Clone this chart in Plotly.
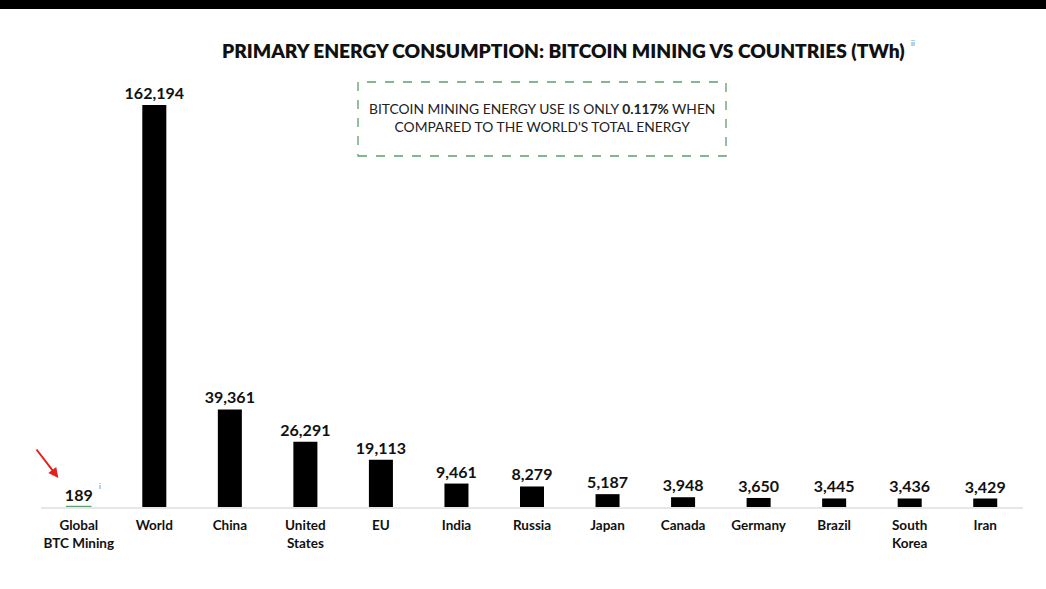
import plotly.graph_objects as go

categories = ["Global<br>BTC Mining", "World", "China", "United<br>States", "EU", "India",
              "Russia", "Japan", "Canada", "Germany", "Brazil", "South<br>Korea", "Iran"]
values = [189, 162194, 39361, 26291, 19113, 9461, 8279, 5187, 3948, 3650, 3445, 3436, 3429]
value_labels = ["189", "162,194", "39,361", "26,291", "19,113", "9,461", "8,279", "5,187",
                "3,948", "3,650", "3,445", "3,436", "3,429"]

GREEN = "#5b9f70"
bar_colors = [GREEN] + ["#000000"] * (len(values) - 1)
line_widths = [1.5] + [0] * (len(values) - 1)

FONT = "Lato"
L, T, PW, PH = 41, 60, 982, 447

def px(x):
    return (x - L) / PW

def py(y):
    return (T + PH - y) / PH

fig = go.Figure()
fig.add_trace(go.Bar(
    x=list(range(len(categories))),
    y=values,
    marker=dict(color=bar_colors, line=dict(color=bar_colors, width=line_widths)),
    width=0.318,
    text=value_labels,
    textposition="outside",
    constraintext="none",
    textfont=dict(family=FONT, size=16, color="#111111", weight="bold"),
    cliponaxis=False,
    hoverinfo="skip",
))

fig.update_layout(
    width=1046, height=589,
    margin=dict(l=L, r=1046 - L - PW, t=T, b=589 - T - PH),
    paper_bgcolor="white", plot_bgcolor="white",
    showlegend=False,
    xaxis=dict(
        tickmode="array", tickvals=list(range(len(categories))), ticktext=categories,
        range=[-0.5, len(categories) - 0.5],
        showgrid=False, zeroline=False,
        showline=True, linecolor="#e6e6e6", linewidth=1.5,
        ticks="", ticklabelstandoff=5,
        tickfont=dict(family=FONT, size=13.5, color="#111111", weight="bold"),
    ),
    yaxis=dict(range=[0, 180387], visible=False, showgrid=False, zeroline=False),
    shapes=[
        # black band at top of the image
        dict(type="rect", xref="paper", yref="paper",
             x0=-0.05, x1=1.05, y0=py(9), y1=1.2,
             fillcolor="black", line=dict(width=0), layer="above"),
        # dashed green callout box
        dict(type="rect", xref="paper", yref="paper",
             x0=px(358), x1=px(726), y0=py(156), y1=py(82),
             line=dict(color=GREEN, width=1.3, dash="dash"), fillcolor="rgba(0,0,0,0)"),
    ],
    annotations=[
        dict(xref="paper", yref="paper", x=px(563), y=py(50),
             text="PRIMARY ENERGY CONSUMPTION: BITCOIN MINING VS COUNTRIES (TWh)",
             showarrow=False, font=dict(family=FONT, size=19.2, color="#111111", weight=800),
             xanchor="center", yanchor="middle"),
        dict(xref="paper", yref="paper", x=px(909), y=py(43),
             text="ii", showarrow=False, font=dict(family=FONT, size=8, color="#777777"),
             xanchor="left", yanchor="middle"),
        dict(xref="paper", yref="paper", x=px(542), y=py(118),
             text="BITCOIN MINING ENERGY USE IS ONLY <b>0.117%</b> WHEN<br>COMPARED TO THE WORLD'S TOTAL ENERGY",
             showarrow=False, font=dict(family=FONT, size=13.8, color="#222222", weight=400),
             xanchor="center", yanchor="middle", align="center"),
        dict(x=0.235, y=8500, xref="x", yref="y", text="i", showarrow=False,
             font=dict(family=FONT, size=8, color="#777777"), xanchor="left", yanchor="middle"),
        dict(x=-0.27, y=11700, xref="x", yref="y", text="", showarrow=True,
             arrowhead=2, arrowsize=1, arrowwidth=2, arrowcolor="#e3211c",
             ax=-23, ay=-30),
    ],
)

fig.write_html("out.html", config={"displayModeBar": False},
               post_script="document.body.style.margin='0';")
